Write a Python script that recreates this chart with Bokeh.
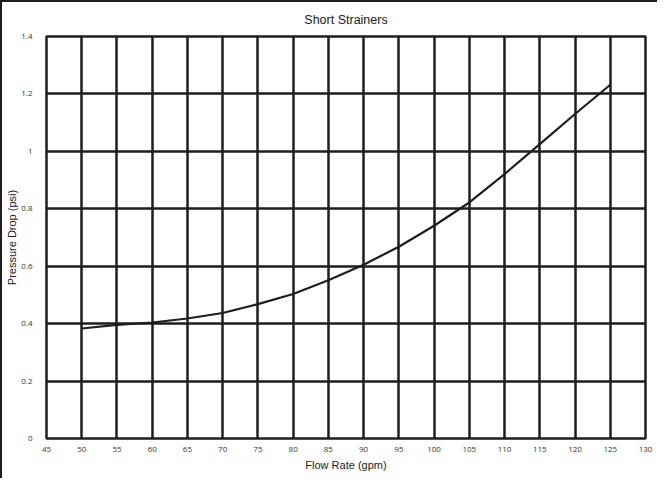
from bokeh.plotting import figure
from bokeh.models import FixedTicker, Range1d
from bokeh.embed import file_html
from bokeh.resources import INLINE

# Data
flow_gpm = [50, 55, 60, 65, 70, 75, 80, 85, 90, 95, 100, 105, 110, 115, 120, 125]
pressure_psi = [0.383, 0.396, 0.404, 0.418, 0.437, 0.468, 0.503, 0.551, 0.605,
                0.668, 0.741, 0.822, 0.921, 1.025, 1.130, 1.232]

x_ticks = [45, 50, 55, 60, 65, 70, 75, 80, 85, 90, 95, 100, 105, 110, 115, 120, 125, 130]
y_ticks = [0, 0.2, 0.4, 0.6, 0.8, 1.0, 1.2, 1.4]
y_tick_labels = ["0", "0.2", "0.4", "0.6", "0.8", "1", "1.2", "1.4"]
chart_title = "Short Strainers"

INK = "#1e1e1e"

p = figure(width=657, height=478, output_backend="svg", toolbar_location=None,
           x_range=Range1d(45, 130), y_range=Range1d(0, 1.4),
           title=chart_title,
           min_border_left=44, min_border_right=14, min_border_bottom=42,
           min_border_top=34)
p.styles = {"border-left": "2px solid #1e1e1e", "border-top": "2px solid #1e1e1e"}

p.title.align = "center"
p.title.offset = -6
p.title.vertical_align = "top"
p.title.text_line_height = 1.0
p.title.standoff = 16
p.title.text_font = "Liberation Sans"
p.title.text_font_size = "12.5px"
p.title.text_font_style = "normal"
p.title.text_color = "#222222"

p.xaxis.ticker = FixedTicker(ticks=x_ticks)
p.yaxis.ticker = FixedTicker(ticks=y_ticks)
p.yaxis.major_label_overrides = {t: l for t, l in zip(y_ticks, y_tick_labels)}

for ax in (p.xaxis, p.yaxis):
    ax.axis_line_color = None
    ax.major_tick_line_color = None
    ax.minor_tick_line_color = None
    ax.major_label_text_font = "Open Sans"
    ax.major_label_text_font_size = "8px"
    ax.major_label_text_color = "#333333"
    ax.axis_label_text_font = "Liberation Sans"
    ax.axis_label_text_font_size = "11px"
    ax.axis_label_text_font_style = "normal"
    ax.axis_label_text_color = "#222222"

p.xaxis.axis_label = "Flow Rate (gpm)"
p.yaxis.axis_label = "Pressure Drop (psi)"
p.xaxis.major_label_standoff = 2
p.xaxis.axis_label_standoff = 4
p.yaxis.major_label_standoff = 8
p.yaxis.axis_label_standoff = 0

p.xgrid.grid_line_color = INK
p.xgrid.grid_line_width = 2.5
p.ygrid.grid_line_color = INK
p.ygrid.grid_line_width = 2.5
p.outline_line_color = INK
p.outline_line_width = 2.5

p.line(flow_gpm, pressure_psi, line_color=INK, line_width=2.2)

open("out.html", "w").write(file_html(p, INLINE))
